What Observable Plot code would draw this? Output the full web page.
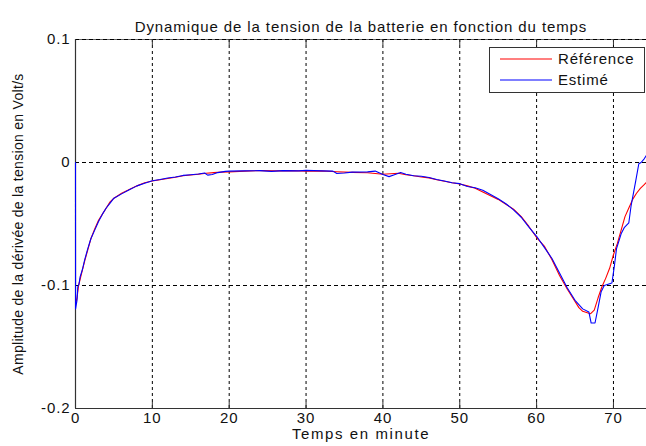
<!DOCTYPE html>
<html>
<head>
<meta charset="utf-8">
<script src="https://cdn.jsdelivr.net/npm/d3@7"></script>
<script src="https://cdn.jsdelivr.net/npm/@observablehq/plot@0.6"></script>
<style>
  html, body { margin: 0; padding: 0; background: #fff; overflow: hidden; }
  #wrap { position: relative; width: 646px; height: 446px; }
  #legend { position: absolute; left: 489px; top: 47px; width: 154px; height: 44px;
    background: #fff; border: 1px solid #333; font-family: "Liberation Sans", Arial, sans-serif;
    font-size: 15px; letter-spacing: 0.8px; color: #111; }
  .row { position: absolute; left: 0; display: flex; align-items: center; line-height: 16px; }
  .row svg { margin-left: 10px; margin-right: 6px; }
</style>
</head>
<body>
<div id="wrap"></div>
<script>
const titleText = "Dynamique de la tension de la batterie en fonction du temps";
const xLabelText = "Temps en minute";
const yLabelText = "Amplitude de la dérivée de la tension en Volt/s";
const seriesNames = ["Référence", "Estimé"];
const seriesColors = ["#ff0000", "#0000ff"];

const xTicks = [0, 10, 20, 30, 40, 50, 60, 70];
const xTickLabels = ["0", "10", "20", "30", "40", "50", "60", "70"];
const yTicks = [0.1, 0, -0.1, -0.2];
const yTickLabels = ["0.1", "0", "-0.1", "-0.2"];
const xDomain = [0, 74.3];
const yDomain = [-0.2, 0.1];

const refT = [0, 0.2, 0.4, 0.8, 1.2, 1.6, 2.0, 2.5, 3, 3.5, 4, 4.5, 5, 6, 7, 8, 9, 10, 11, 12, 13, 14, 15, 16, 17, 18, 19, 20, 22, 24, 26, 28, 30, 32, 34, 36, 38, 40, 41, 42, 43, 44, 45, 46, 47, 48, 49, 50, 51, 52, 53, 54, 55, 56, 57, 58, 59, 60, 61, 62, 63, 64, 65, 65.5, 66, 66.5, 67, 67.5, 68, 68.5, 69, 69.5, 70, 70.5, 71, 71.5, 72, 72.5, 73, 73.5, 74, 74.3];
const refV = [-0.115, -0.110, -0.100, -0.090, -0.080, -0.071, -0.062, -0.054, -0.047, -0.042, -0.037, -0.032, -0.029, -0.025, -0.022, -0.019, -0.0165, -0.015, -0.014, -0.013, -0.012, -0.0108, -0.0102, -0.0095, -0.0087, -0.0082, -0.0078, -0.0076, -0.007, -0.0066, -0.0068, -0.0066, -0.007, -0.0068, -0.0075, -0.008, -0.0083, -0.0095, -0.0092, -0.0088, -0.0100, -0.0108, -0.0118, -0.0125, -0.014, -0.0152, -0.0165, -0.0175, -0.019, -0.021, -0.024, -0.027, -0.030, -0.034, -0.038, -0.044, -0.052, -0.061, -0.068, -0.079, -0.092, -0.103, -0.113, -0.118, -0.121, -0.122, -0.123, -0.120, -0.110, -0.101, -0.094, -0.086, -0.075, -0.066, -0.055, -0.044, -0.037, -0.030, -0.025, -0.021, -0.018, -0.016];

const estT = [0, 0.01, 0.2, 0.3, 0.45, 0.6, 0.9, 1.2, 1.6, 2.0, 2.5, 3.0, 3.5, 4.0, 4.5, 5.0, 6, 7, 8, 9, 10, 11, 12, 13, 14, 15, 16, 16.8, 17.2, 17.8, 18.5, 19.5, 20, 22, 24, 25.5, 27, 29, 30, 32, 33.5, 34, 35, 36, 38, 39, 40, 40.8, 41.5, 42.3, 43, 44, 45, 46, 47, 48, 49, 50, 51, 52, 53, 54, 55, 56, 57, 58, 59, 60, 61, 62, 63, 64, 65, 66, 66.8, 67.1, 67.6, 68.0, 68.4, 68.8, 69.8, 70.1, 70.4, 71.0, 71.4, 72.0, 72.3, 72.9, 73.3, 73.6, 74.0, 74.3];
const estV = [0, -0.119, -0.112, -0.101, -0.099, -0.093, -0.087, -0.079, -0.070, -0.062, -0.055, -0.048, -0.042, -0.037, -0.033, -0.029, -0.0255, -0.0222, -0.0190, -0.0168, -0.0148, -0.0138, -0.0126, -0.0118, -0.0105, -0.0100, -0.0094, -0.0085, -0.0103, -0.0098, -0.0082, -0.0072, -0.0070, -0.0068, -0.0066, -0.0072, -0.0066, -0.0068, -0.0064, -0.0068, -0.0070, -0.0090, -0.0085, -0.0078, -0.0076, -0.0070, -0.0098, -0.0115, -0.0100, -0.0082, -0.0095, -0.0108, -0.0112, -0.0122, -0.0138, -0.0150, -0.0165, -0.0172, -0.0195, -0.0205, -0.0225, -0.0260, -0.0295, -0.0335, -0.0385, -0.0445, -0.0525, -0.0600, -0.0690, -0.0780, -0.0900, -0.1020, -0.1120, -0.1190, -0.1215, -0.1305, -0.1305, -0.1180, -0.1050, -0.1000, -0.0980, -0.0850, -0.0700, -0.0580, -0.0530, -0.0490, -0.0350, -0.0150, -0.0010, 0.0000, 0.0030, 0.0060];

const refData = refT.map((t, i) => ({t, v: refV[i]}));
const estData = estT.map((t, i) => ({t, v: estV[i]}));

const W = 646, H = 446, mL = 75, mT = 39, mB = 38, mR = 0;
const innerH = H - mT - mB;
const font = "'Liberation Sans', Arial, sans-serif";
const axisColor = "#333";
const gridDash = "3,3";

const chart = Plot.plot({
  width: W, height: H,
  marginLeft: mL, marginTop: mT, marginBottom: mB, marginRight: mR,
  style: { fontFamily: font, fontSize: "15px", letterSpacing: "0.9px", color: "#111", background: "#fff", overflow: "visible" },
  x: { domain: xDomain },
  y: { domain: yDomain },
  marks: [
    Plot.ruleY([yTicks[0]], { stroke: "#666", strokeWidth: 1 }),
    Plot.ruleX(xTicks.slice(1), { stroke: "#000", strokeDasharray: gridDash, strokeWidth: 1 }),
    Plot.ruleY(yTicks.slice(0, 3), { stroke: "#000", strokeDasharray: "4,3", strokeWidth: 1 }),
    Plot.tickX(xTicks, { x: d => d, stroke: axisColor, insetBottom: innerH - 6 }),
    Plot.tickX(xTicks, { x: d => d, stroke: axisColor, insetTop: innerH - 6 }),
    Plot.ruleX([xDomain[0]], { stroke: axisColor, strokeWidth: 1.2 }),
    Plot.ruleY([yDomain[0]], { stroke: axisColor, strokeWidth: 1.2 }),
    Plot.line(refData, { x: "t", y: "v", stroke: seriesColors[0], strokeWidth: 1.1 }),
    Plot.line(estData, { x: "t", y: "v", stroke: seriesColors[1], strokeWidth: 1.1 }),
    Plot.axisX(xTicks, { tickSize: 0, tickPadding: 4, label: null, tickFormat: (d, i) => xTickLabels[i], fontSize: 15 }),
    Plot.axisY(yTicks, { tickSize: 0, tickPadding: 5, label: null, tickFormat: (d, i) => yTickLabels[i], fontSize: 15 }),
    Plot.text([titleText], { text: d => d, frameAnchor: "top", dy: -18, fontSize: 15 }),
    Plot.text([xLabelText], { text: d => d, frameAnchor: "bottom", dy: 30, fontSize: 15 }),
    Plot.text([yLabelText], { text: d => d, frameAnchor: "left", textAnchor: "middle", dx: -57, rotate: -90, fontSize: 14 })
  ]
});

d3.select(chart).selectAll("text").filter(function() { return this.textContent === yLabelText; })
  .style("letter-spacing", "0.3px");
d3.select(chart).selectAll("text").filter(function() { return this.textContent === xLabelText; })
  .style("letter-spacing", "1.6px");

const wrap = document.getElementById("wrap");
wrap.appendChild(chart);

const legend = document.createElement("div");
legend.id = "legend";
seriesNames.forEach((name, i) => {
  const row = document.createElement("div");
  row.className = "row";
  row.style.top = (i === 0 ? 3 : 24) + "px";
  row.innerHTML = `<svg width="52" height="16"><line x1="0" x2="52" y1="8" y2="8" stroke="${seriesColors[i]}" stroke-width="1.2"/></svg><span>${name}</span>`;
  legend.appendChild(row);
});
wrap.appendChild(legend);
</script>
</body>
</html>
